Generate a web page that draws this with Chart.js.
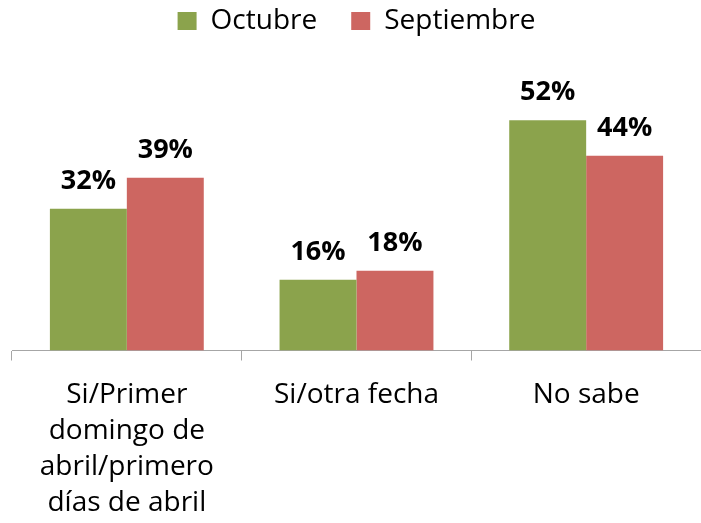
<!DOCTYPE html>
<html>
<head>
<meta charset="utf-8">
<script src="https://cdn.jsdelivr.net/npm/chart.js@4/dist/chart.umd.min.js"></script>
<style>
  html, body { margin: 0; padding: 0; background: #fff; }
  #c { display: block; }
</style>
</head>
<body>
<canvas id="c" width="701" height="523"></canvas>
<script>
'use strict';

// categorias y series
const categories = [
  ['Si/Primer', 'domingo de', 'abril/primero', 'días de abril'],
  'Si/otra fecha',
  'No sabe'
];
const octubre = [32, 16, 52];
const septiembre = [39, 18, 44];
const seriesNames = ['Octubre', 'Septiembre'];

const FONT = '"Open Sans", sans-serif';

// etiquetas de valor encima de cada barra
const valueLabels = {
  id: 'valueLabels',
  afterDatasetsDraw(chart) {
    const ctx = chart.ctx;
    ctx.save();
    ctx.font = 'bold 27px ' + FONT;
    ctx.fillStyle = '#000';
    ctx.textAlign = 'center';
    ctx.textBaseline = 'alphabetic';
    chart.data.datasets.forEach((ds, i) => {
      chart.getDatasetMeta(i).data.forEach((bar, j) => {
        ctx.fillText(ds.data[j] + '%', bar.x, bar.y - 20);
      });
    });
    ctx.restore();
  }
};

new Chart(document.getElementById('c'), {
  type: 'bar',
  data: {
    labels: categories,
    datasets: [
      {
        label: seriesNames[0],
        data: octubre,
        backgroundColor: '#8BA34C'
      },
      {
        label: seriesNames[1],
        data: septiembre,
        backgroundColor: '#CD6661'
      }
    ]
  },
  options: {
    responsive: false,
    animation: false,
    categoryPercentage: 0.67,
    barPercentage: 1,
    layout: {
      padding: { top: -27, left: 12, right: 0, bottom: -14 }
    },
    plugins: {
      legend: {
        position: 'top',
        labels: {
          boxWidth: 19,
          boxHeight: 18,
          padding: 34,
          color: '#000',
          font: { family: FONT, size: 28 }
        }
      },
      tooltip: { enabled: false }
    },
    scales: {
      x: {
        grid: {
          drawOnChartArea: false,
          drawTicks: true,
          tickLength: 10,
          color: '#A6A6A6',
          offset: true
        },
        border: { display: true, color: '#A6A6A6' },
        ticks: {
          color: '#000',
          padding: 16,
          autoSkip: false,
          maxRotation: 0,
          font: { family: FONT, size: 28, lineHeight: 1.29 }
        }
      },
      y: {
        display: false,
        min: 0,
        max: 69
      }
    }
  },
  plugins: [valueLabels]
});
</script>
</body>
</html>
